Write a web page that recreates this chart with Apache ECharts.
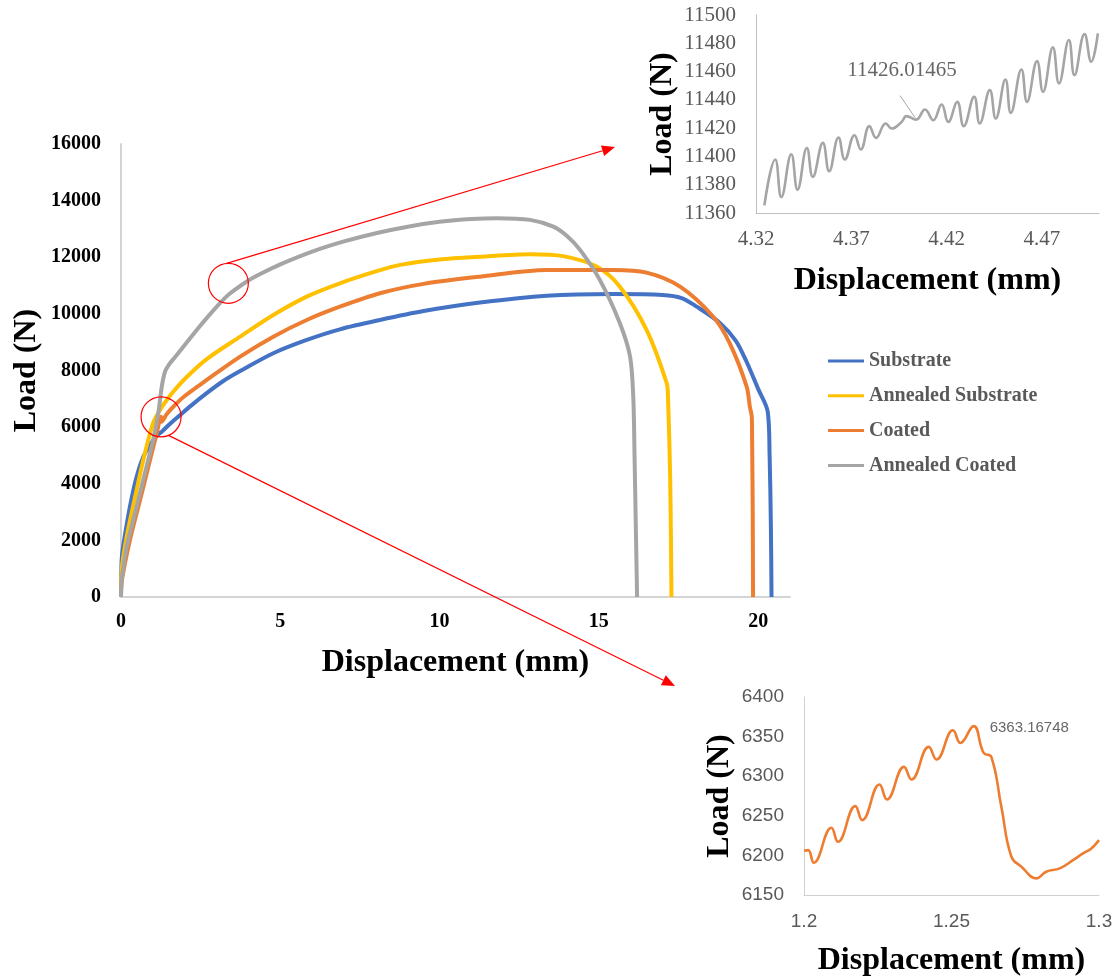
<!DOCTYPE html>
<html>
<head>
<meta charset="utf-8">
<script src="https://cdn.jsdelivr.net/npm/echarts@6/dist/echarts.min.js"></script>
<style>
  html, body { margin: 0; padding: 0; background: #ffffff; }
  #chart { width: 1119px; height: 980px; }
</style>
</head>
<body>
<div id="chart"></div>
<script>
// ---- Load–displacement curves (displacement in mm, load in N) ----
const seriesNames = ['Substrate', 'Annealed Substrate', 'Coated', 'Annealed Coated'];

const substrateX = [0, 0.02, 0.07, 0.28, 0.49, 0.7, 0.91, 1.12, 1.28, 1.54, 1.85, 2.2, 2.69, 3.2, 3.74, 4.78, 5.83, 6.87, 8.13, 9.5, 11.27, 13.36, 15.45, 17.0, 17.6, 18.07, 18.8, 19.3, 19.64, 20.0, 20.3, 20.36, 20.4, 20.42];
const substrateY = [0, 1300, 1800, 3190, 4250, 4950, 5370, 5700, 5840, 6120, 6420, 6760, 7200, 7620, 7980, 8610, 9080, 9455, 9785, 10100, 10400, 10640, 10700, 10670, 10560, 10254, 9680, 9050, 8300, 7350, 6550, 5000, 2500, 0];

const annealedSubX = [0, 0.02, 0.18, 0.49, 0.75, 1.01, 1.22, 1.43, 1.64, 2.0, 2.69, 3.74, 4.78, 5.83, 6.87, 8.0, 8.76, 10.0, 11.27, 12.84, 13.88, 14.93, 15.66, 16.5, 17.13, 17.17, 17.24, 17.28];
const annealedSubY = [0, 950, 2130, 3780, 5075, 6150, 6600, 6950, 7250, 7700, 8400, 9195, 9960, 10610, 11080, 11500, 11730, 11920, 12020, 12110, 12040, 11670, 10960, 9430, 7550, 7075, 4130, 0];

const coatedX = [0, 0.03, 0.28, 0.6, 0.91, 1.12, 1.22, 1.2575, 1.28, 1.35, 1.43, 1.64, 2.0, 2.69, 3.74, 4.78, 5.83, 6.87, 8.13, 9.5, 11.27, 13.36, 15.45, 16.5, 17.55, 18.59, 19.11, 19.64, 19.74, 19.8, 19.81, 19.83, 19.84];
const coatedY = [0, 600, 2010, 3430, 4840, 5780, 6280, 6363, 6190, 6300, 6450, 6720, 7100, 7665, 8490, 9195, 9785, 10255, 10730, 11060, 11315, 11550, 11550, 11455, 10960, 9900, 8960, 7430, 6720, 6370, 5660, 3000, 0];

const annealedCoatX = [0, 0.02, 0.18, 0.49, 0.8, 1.01, 1.17, 1.28, 1.38, 1.5, 1.7, 2.0, 2.5, 3.0, 3.4, 4.0, 4.4, 5.0, 6.0, 7.0, 8.0, 9.0, 10.0, 11.0, 11.8, 12.84, 13.57, 14.0, 14.41, 15.03, 15.66, 15.98, 16.08, 16.12, 16.16, 16.2];
const annealedCoatY = [0, 600, 1780, 3190, 4600, 5545, 6490, 7430, 7950, 8200, 8480, 8900, 9600, 10250, 10700, 11180, 11426, 11750, 12200, 12560, 12850, 13080, 13250, 13350, 13380, 13320, 13080, 12750, 12260, 11200, 9670, 8490, 7075, 5000, 2500, 0];

// ---- Detail: Annealed Coated, 4.32–4.50 mm ----
const detailCoatX = [4.3244, 4.3301, 4.3333, 4.3385, 4.3418, 4.3467, 4.3498, 4.3551, 4.3584, 4.3633, 4.3666, 4.3717, 4.375, 4.3795, 4.383, 4.3881, 4.3912, 4.3964, 4.399, 4.404, 4.4087, 4.413, 4.4174, 4.4209, 4.4256, 4.429, 4.4345, 4.4374, 4.4427, 4.4458, 4.4509, 4.4537, 4.4593, 4.4622, 4.4675, 4.4706, 4.4758, 4.479, 4.4842, 4.4871, 4.4924, 4.4959, 4.4994];
const detailCoatY = [11365.4, 11397.8, 11371.3, 11401.5, 11376.5, 11406, 11385.5, 11409.6, 11389.5, 11413.4, 11397.8, 11415, 11404.9, 11421.4, 11413.1, 11423.3, 11419.7, 11424.4, 11428.5, 11426.01465, 11433.2, 11425.6, 11436.7, 11424.4, 11438.6, 11421.4, 11442.2, 11423.3, 11446.9, 11426.8, 11454.4, 11430.8, 11461.5, 11438.6, 11467.4, 11445.7, 11477.1, 11451.6, 11482.3, 11457.5, 11486.5, 11466.9, 11487];
const detailCoatMarkIndex = 19;

// ---- Detail: Coated, 1.2–1.3 mm ----
const detailCoatedX = [1.2, 1.2014, 1.2033, 1.2093, 1.2115, 1.2174, 1.2197, 1.2256, 1.2281, 1.2339, 1.2364, 1.2423, 1.2449, 1.2505, 1.253, 1.2575, 1.2609, 1.2635, 1.2669, 1.2703, 1.2737, 1.2788, 1.2821, 1.2867, 1.2912, 1.2946, 1.2974, 1.3];
const detailCoatedY = [6205.9, 6206.7, 6190.8, 6234.9, 6217.2, 6262.2, 6244.5, 6289.5, 6270.6, 6311.8, 6295.8, 6337.0, 6321.0, 6358.0, 6342.0, 6363.16748, 6329.4, 6324.4, 6261.3, 6198.3, 6185.7, 6171.0, 6179.4, 6183.6, 6194.1, 6202.5, 6208.8, 6219.3];
const detailCoatedMarkIndex = 15;

// Callout circles on the main plot, in data units (mm, N)
const calloutCentres = [[3.37, 11080], [detailCoatedX[detailCoatedMarkIndex], detailCoatedY[detailCoatedMarkIndex]]];

// ---- styling ----
const palette = ['#4472C4', '#FFC000', '#ED7D31', '#A5A5A5'];
const SERIF = '"Liberation Serif", "Times New Roman", serif';
const SANS = '"Liberation Sans", Arial, sans-serif';

const zip = (xs, ys) => xs.map((x, i) => [x, ys[i]]);
const plain = v => String(v);

const mainData = [
  zip(substrateX, substrateY),
  zip(annealedSubX, annealedSubY),
  zip(coatedX, coatedY),
  zip(annealedCoatX, annealedCoatY)
];

const boldName = { fontFamily: SERIF, fontWeight: 'bold', fontSize: 32, color: '#000' };

const option = {
  animation: false,
  backgroundColor: '#ffffff',
  grid: [
    { left: 121, top: 144, right: 329, bottom: 383, outerBoundsMode: 'none', containLabel: false },
    { left: 756, top: 15, right: 20, bottom: 767, outerBoundsMode: 'none', containLabel: false },
    { left: 804, top: 697, right: 20, bottom: 85, outerBoundsMode: 'none', containLabel: false }
  ],
  legend: {
    data: seriesNames.map(name => ({ name, icon: 'rect' })),
    orient: 'vertical',
    left: 823,
    top: 346,
    itemWidth: 36,
    itemHeight: 3,
    itemGap: 14.8,
    textStyle: { fontFamily: SERIF, fontWeight: 'bold', fontSize: 20, color: '#595959' }
  },
  xAxis: [
    {
      gridIndex: 0, type: 'value', min: 0, max: 21, interval: 5,
      name: 'Displacement (mm)', nameLocation: 'middle', nameGap: 50, nameTextStyle: boldName,
      axisLine: { lineStyle: { color: '#d4d4d4', width: 2 } },
      axisTick: { show: false }, splitLine: { show: false },
      axisLabel: { showMaxLabel: false, margin: 15, fontFamily: SERIF, fontWeight: 'bold', fontSize: 20, color: '#000', formatter: plain }
    },
    {
      gridIndex: 1, type: 'value', min: 4.32, max: 4.50, interval: 0.05,
      name: 'Displacement (mm)', nameLocation: 'middle', nameGap: 52, nameTextStyle: boldName,
      axisLine: { lineStyle: { color: '#bfbfbf', width: 1 } },
      axisTick: { show: false }, splitLine: { show: false },
      axisLabel: { showMaxLabel: false, margin: 16, fontFamily: SERIF, fontSize: 21, color: '#595959',
                   formatter: v => v.toFixed(2) }
    },
    {
      gridIndex: 2, type: 'value', min: 1.2, max: 1.3, interval: 0.05,
      name: 'Displacement (mm)', nameLocation: 'middle', nameGap: 50, nameTextStyle: boldName,
      axisLine: { lineStyle: { color: '#d0d0d0', width: 1 } },
      axisTick: { show: false }, splitLine: { show: false },
      axisLabel: { margin: 17, fontFamily: SANS, fontSize: 19, color: '#595959', formatter: plain }
    }
  ],
  yAxis: [
    {
      gridIndex: 0, type: 'value', min: 0, max: 16000, interval: 2000,
      name: 'Load (N)', nameLocation: 'middle', nameGap: 78, nameMoveOverlap: false, nameTextStyle: boldName,
      axisLine: { show: true, lineStyle: { color: '#d4d4d4', width: 2 } },
      axisTick: { show: false }, splitLine: { show: false },
      axisLabel: { margin: 20, fontFamily: SERIF, fontWeight: 'bold', fontSize: 20, color: '#000', formatter: plain }
    },
    {
      gridIndex: 1, type: 'value', min: 11360, max: 11500, interval: 20,
      name: 'Load (N)', nameLocation: 'middle', nameGap: 77, nameTextStyle: boldName,
      axisLine: { show: true, lineStyle: { color: '#bfbfbf', width: 1 } },
      axisTick: { show: false }, splitLine: { show: false },
      axisLabel: { margin: 20, fontFamily: SERIF, fontSize: 21, color: '#595959', formatter: plain }
    },
    {
      gridIndex: 2, type: 'value', min: 6150, max: 6400, interval: 50,
      name: 'Load (N)', nameLocation: 'middle', nameGap: 68, nameTextStyle: boldName,
      axisLine: { show: true, lineStyle: { color: '#d0d0d0', width: 1 } },
      axisTick: { show: false }, splitLine: { show: false },
      axisLabel: { margin: 20, fontFamily: SANS, fontSize: 19, color: '#595959', formatter: plain }
    }
  ],
  series: [
    ...seriesNames.map((name, i) => ({
      name, type: 'line', xAxisIndex: 0, yAxisIndex: 0,
      data: mainData[i], symbol: 'none', smooth: 0.3,
      color: palette[i],
      lineStyle: { color: palette[i], width: 4 },
      z: 2 + i
    })),
    {
      name: 'Annealed Coated (detail)', type: 'line', xAxisIndex: 1, yAxisIndex: 1,
      data: zip(detailCoatX, detailCoatY), symbol: 'none', smooth: 0.45,
      lineStyle: { color: '#A5A5A5', width: 2.6 }
    },
    {
      name: 'Annealed Coated (marked)', type: 'scatter', xAxisIndex: 1, yAxisIndex: 1,
      data: [[detailCoatX[detailCoatMarkIndex], detailCoatY[detailCoatMarkIndex]]],
      symbolSize: 0, silent: true,
      label: {
        show: true, position: 'top', distance: 5,
        formatter: p => String(p.value[1]),
        fontFamily: SERIF, fontSize: 21, color: '#404040'
      },
      labelLayout: { dx: -14, dy: -34 }
    },
    {
      name: 'Coated (detail)', type: 'line', xAxisIndex: 2, yAxisIndex: 2,
      data: zip(detailCoatedX, detailCoatedY), symbol: 'none', smooth: 0.45,
      lineStyle: { color: '#ED7D31', width: 2.6 }
    },
    {
      name: 'Coated (marked)', type: 'scatter', xAxisIndex: 2, yAxisIndex: 2,
      data: [[detailCoatedX[detailCoatedMarkIndex], detailCoatedY[detailCoatedMarkIndex]]],
      symbolSize: 0, silent: true,
      label: {
        show: true, position: 'right', distance: 16, offset: [0, 2],
        formatter: p => String(p.value[1]),
        fontFamily: SANS, fontSize: 15, color: '#404040'
      }
    }
  ]
};

const chart = echarts.init(document.getElementById('chart'));
chart.setOption(option);

const graphics = [];

// Leader line from the marked detail point up to its value label
const [mx, my] = chart.convertToPixel({ gridIndex: 1 }, [detailCoatX[detailCoatMarkIndex], detailCoatY[detailCoatMarkIndex]]);
graphics.push({
  type: 'line', shape: { x1: mx - 1, y1: my - 2, x2: mx - 16, y2: my - 24 },
  style: { stroke: '#a6a6a6', lineWidth: 1 }, z: 20
});

// Callout circles with arrows pointing to the detail panels
const RADIUS = 20;
const arrowTips = [[615, 147], [675, 686]];
const startAngles = [-95, 68];
calloutCentres.forEach((c, i) => {
  const [cx, cy] = chart.convertToPixel({ gridIndex: 0 }, c);
  graphics.push({
    type: 'circle', shape: { cx, cy, r: RADIUS },
    style: { fill: 'none', stroke: '#ff0000', lineWidth: 1.2 }, z: 20
  });
  const a = startAngles[i] * Math.PI / 180;
  const sx = cx + RADIUS * Math.cos(a), sy = cy + RADIUS * Math.sin(a);
  const [tx, ty] = arrowTips[i];
  const len = Math.hypot(tx - sx, ty - sy);
  const ux = (tx - sx) / len, uy = (ty - sy) / len;
  const head = 13, half = 5.5;
  const bx = tx - ux * head, by = ty - uy * head;
  graphics.push({
    type: 'line', shape: { x1: sx, y1: sy, x2: bx, y2: by },
    style: { stroke: '#ff0000', lineWidth: 1.2 }, z: 20
  });
  graphics.push({
    type: 'polygon',
    shape: { points: [[tx, ty], [bx - uy * half, by + ux * half], [bx + uy * half, by - ux * half]] },
    style: { fill: '#ff0000' }, z: 20
  });
});
chart.setOption({ graphic: graphics });
</script>
</body>
</html>
